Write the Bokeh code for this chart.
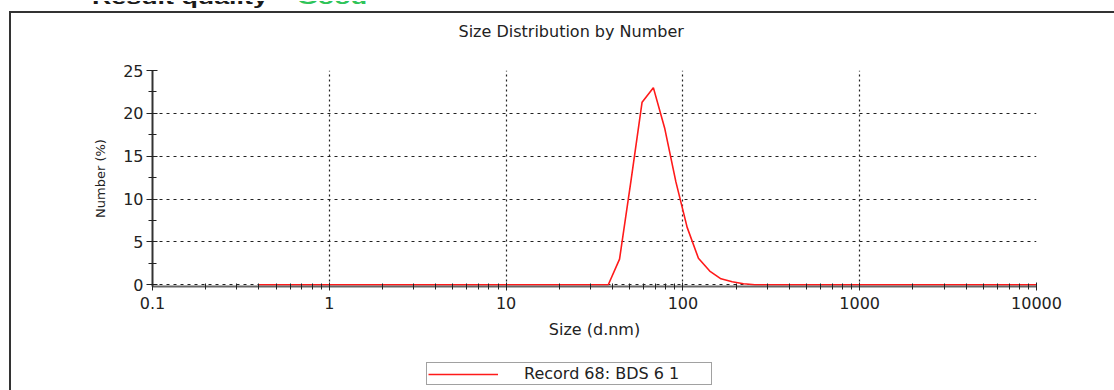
from bokeh.plotting import figure
from bokeh.layouts import column
from bokeh.models import (Range1d, FixedTicker, CustomJSTickFormatter, Title,
                          Legend, LegendItem, Div)
from bokeh.embed import file_html
from bokeh.resources import INLINE

# ---- data ----
sizes_nm = [0.4, 0.4632, 0.5365, 0.6213, 0.7195, 0.8332, 0.9649, 1.117, 1.294, 1.499,
            1.736, 2.01, 2.328, 2.696, 3.122, 3.615, 4.187, 4.849, 5.615, 6.503,
            7.531, 8.721, 10.1, 11.7, 13.54, 15.69, 18.17, 21.04, 24.36, 28.21,
            32.67, 37.84, 43.82, 50.75, 58.77, 68.06, 78.82, 91.28, 105.7, 122.4,
            141.8, 164.2, 190.1, 220.2, 255.0, 295.3, 342.0, 396.1, 458.7, 531.2,
            615.1, 712.4, 825.0, 955.4, 1106, 1281, 1484, 1718, 1990, 2305,
            2669, 3091, 3580, 4145, 4801, 5560, 6439, 7456, 8635, 10000]
number_pct = [0, 0, 0, 0, 0, 0, 0, 0, 0, 0,
              0, 0, 0, 0, 0, 0, 0, 0, 0, 0,
              0, 0, 0, 0, 0, 0, 0, 0, 0, 0,
              0, 0, 3.0, 12.0, 21.3, 23.0, 18.3, 12.0, 6.7, 3.1,
              1.6, 0.7, 0.35, 0.12, 0, 0, 0, 0, 0, 0,
              0, 0, 0, 0, 0, 0, 0, 0, 0, 0,
              0, 0, 0, 0, 0, 0, 0, 0, 0, 0]
series_name = "Record 68: BDS 6 1"
x_major_ticks = [0.1, 1, 10, 100, 1000, 10000]
x_minor_ticks = [m * d for d in [0.1, 1, 10, 100, 1000] for m in range(2, 10)]
y_major_ticks = [0, 5, 10, 15, 20, 25]
y_minor_ticks = [2.5, 7.5, 12.5, 17.5, 22.5]
chart_title = "Size Distribution by Number"
x_title = "Size (d.nm)"
y_title = "Number (%)"
header_text = "Result quality"
header_value = "Good"

FONT = "DejaVu Sans"
TXT = "#222222"
BOX = "#333333"
LINE_COLOR = "#ff1a1a"

p = figure(width=1114, height=331, x_axis_type="log", title=None,
           x_range=Range1d(0.1, 10000), y_range=Range1d(-0.2, 25),
           output_backend="svg", toolbar_location=None,
           min_border_left=152, min_border_right=78,
           min_border_top=59, min_border_bottom=56)
p.outline_line_color = None
p.background_fill_color = "white"
p.border_fill_color = None
# left and top edges of the report box (right/bottom edges lie off-screen)
p.styles = {
    "background-image": f"linear-gradient({BOX}, {BOX}), linear-gradient({BOX}, {BOX})",
    "background-size": "2px 100%, 100% 2px",
    "background-position": "9px 0px, 9px 0px",
    "background-repeat": "no-repeat",
}

r = p.line(sizes_nm, number_pct, line_color=LINE_COLOR, line_width=1.6)

# axes
xa = p.xaxis[0]
xa.ticker = FixedTicker(ticks=x_major_ticks, minor_ticks=x_minor_ticks)
xa.formatter = CustomJSTickFormatter(code="return tick.toString()")
xa.axis_line_color = "#666666"
xa.axis_line_width = 2
xa.major_tick_in = 4
xa.major_tick_out = 4
xa.minor_tick_in = 3
xa.minor_tick_out = 3
xa.major_tick_line_color = "#222222"
xa.minor_tick_line_color = "#222222"
xa.major_label_standoff = 6
xa.major_label_text_font = FONT
xa.major_label_text_font_size = "16px"
xa.major_label_text_color = TXT
xa.axis_label = x_title
xa.axis_label_text_font = FONT
xa.axis_label_text_font_size = "16px"
xa.axis_label_text_font_style = "normal"
xa.axis_label_text_color = TXT
xa.axis_label_standoff = 8

ya = p.yaxis[0]
ya.ticker = FixedTicker(ticks=y_major_ticks, minor_ticks=y_minor_ticks)
ya.axis_line_color = "#333333"
ya.axis_line_width = 2
ya.major_tick_in = 5
ya.major_tick_out = 6
ya.minor_tick_in = 4
ya.minor_tick_out = 4
ya.major_tick_line_color = "#222222"
ya.minor_tick_line_color = "#222222"
ya.major_label_standoff = 3
ya.major_label_text_font = FONT
ya.major_label_text_font_size = "16px"
ya.major_label_text_color = TXT
ya.axis_label = y_title
ya.axis_label_text_font = FONT
ya.axis_label_text_font_size = "13px"
ya.axis_label_text_font_style = "normal"
ya.axis_label_text_color = TXT
ya.axis_label_standoff = 12

# grids
p.xgrid.grid_line_color = "#222222"
p.xgrid.grid_line_dash = "2 3"
p.xgrid.grid_line_width = 1.2
p.ygrid.grid_line_color = "#222222"
p.ygrid.grid_line_dash = "3 4"
p.ygrid.grid_line_width = 1

# above panel: spacer next to the frame, then the chart title
p.add_layout(Title(text=" ", text_font_size="2px", standoff=25.5), "above")
p.add_layout(Title(text=chart_title, align="left", offset=306, standoff=0,
                   vertical_align="bottom", text_font=FONT, text_font_size="16px",
                   text_font_style="normal", text_color=TXT), "above")

# legend strip (separate canvas so the legend is not clipped by the plot frame)
pl = figure(width=1114, height=48, title=None, x_range=Range1d(0, 1), y_range=Range1d(0, 1),
            output_backend="svg", toolbar_location=None, min_border=0,
            x_axis_location=None, y_axis_location=None)
pl.grid.visible = False
pl.outline_line_color = None
pl.background_fill_color = None
pl.border_fill_color = None
pl.styles = {
    "background-image": f"linear-gradient({BOX}, {BOX})",
    "background-size": "2px 100%",
    "background-position": "9px 0px",
    "background-repeat": "no-repeat",
}
key = pl.line(sizes_nm, number_pct, line_color=LINE_COLOR, line_width=1.6, visible=False)
legend = Legend(items=[LegendItem(label=series_name, renderers=[key])],
                location=(274, 5), orientation="horizontal",
                glyph_width=70, glyph_height=14, label_standoff=26,
                label_height=14, label_width=186, padding=1, margin=0, spacing=0,
                border_line_color="#444444", border_line_width=1.5,
                background_fill_color="white", background_fill_alpha=1,
                inactive_fill_alpha=0,
                label_text_font=FONT, label_text_font_size="16px",
                label_text_color=TXT)
pl.add_layout(legend, "center")

# header line of the report page (cut off by the window top, as in the original)
span_style = ("position:absolute;top:-13px;font-family:'Liberation Sans',Arial,sans-serif;"
              "font-weight:bold;font-size:18.5px;line-height:20px;white-space:nowrap;"
              "transform:scaleX(1.45);transform-origin:0 0;")
header_html = (
    '<div style="position:relative;width:1114px;height:11px;overflow:hidden;">'
    f'<span style="{span_style}left:92px;color:#1a1a1a;">{header_text}</span>'
    f'<span style="{span_style}left:297px;color:#2fc45a;">{header_value}</span>'
    '</div>'
)
header = Div(text=header_html, width=1114, height=11, margin=(0, 0, 0, 0))

layout = column(header, p, pl, spacing=0)

open("out.html", "w").write(file_html(layout, INLINE))
